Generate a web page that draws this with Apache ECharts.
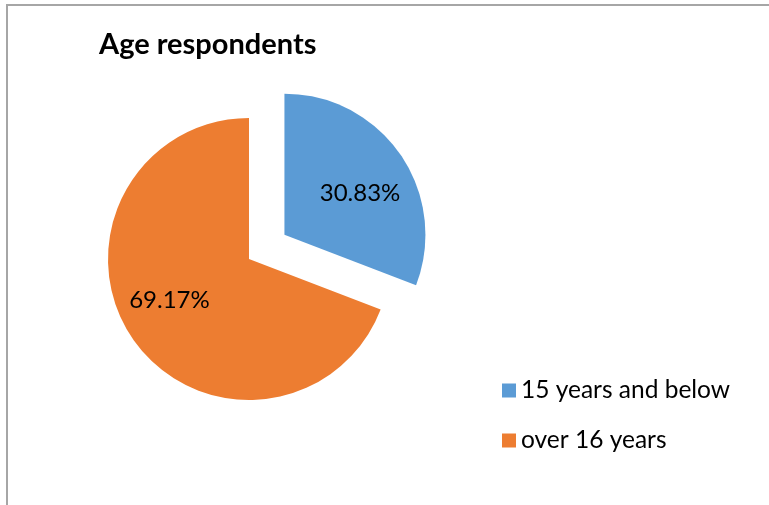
<!DOCTYPE html>
<html>
<head>
<meta charset="utf-8">
<script src="https://cdn.jsdelivr.net/npm/echarts@6/dist/echarts.min.js"></script>
<style>
html,body{margin:0;padding:0;background:#fff;}
#main{width:769px;height:505px;}
</style>
</head>
<body>
<div id="main"></div>
<script>
const categories = ['15 years and below', 'over 16 years'];
const values = [30.83, 69.17];
const colors = ['#5B9BD5', '#ED7D31'];
const labelDx = [15, -19];

const chart = echarts.init(document.getElementById('main'));
chart.setOption({
  animation: false,
  backgroundColor: '#ffffff',
  title: {
    text: 'Age respondents',
    left: 94, top: 25,
    textStyle: { fontFamily: 'Lato', fontWeight: 'bold', fontSize: 29, color: '#000' }
  },
  graphic: [{
    type: 'polyline',
    shape: { points: [[7, 520], [7, 5], [780, 5]] },
    style: { stroke: '#a6a6a6', lineWidth: 2, fill: null }
  }],
  legend: {
    orient: 'vertical',
    left: 497, top: 373,
    itemWidth: 14, itemHeight: 14, itemGap: 25,
    icon: 'rect',
    textStyle: { fontFamily: 'Lato', fontSize: 24.5, color: '#000' },
    data: categories
  },
  series: [{
    type: 'pie',
    center: [249, 259],
    radius: [0, 141],
    startAngle: 90,
    clockwise: true,
    selectedMode: 'multiple',
    selectedOffset: 43,
    avoidLabelOverlap: false,
    label: {
      show: true,
      position: 'inside',
      formatter: p => p.value.toFixed(2) + '%',
      fontFamily: 'Lato', fontSize: 24, color: '#000'
    },
    labelLine: { show: false },
    labelLayout: p => ({ dx: labelDx[p.dataIndex] }),
    emphasis: { disabled: true },
    data: categories.map((c, i) => ({
      name: c, value: values[i], selected: i === 0,
      itemStyle: { color: colors[i] }
    }))
  }]
});
</script>
</body>
</html>
